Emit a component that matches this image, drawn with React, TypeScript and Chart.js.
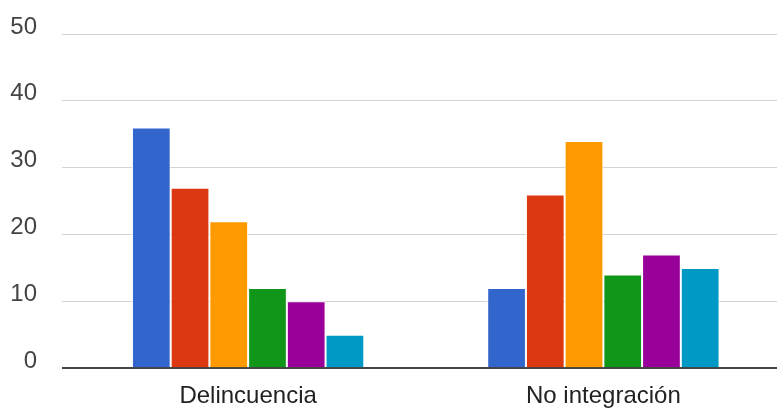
import React, { useEffect, useRef } from "react";
import { Chart, registerables } from "chart.js";

Chart.register(...registerables);

const categories = ["Delincuencia", "No integración"];
const seriesNames = ["Serie 1", "Serie 2", "Serie 3", "Serie 4", "Serie 5", "Serie 6"];
const serie1 = [36, 12];
const serie2 = [27, 26];
const serie3 = [22, 34];
const serie4 = [12, 14];
const serie5 = [10, 17];
const serie6 = [5, 15];
const seriesValues = [serie1, serie2, serie3, serie4, serie5, serie6];
const colors = ["#3366cc", "#dc3912", "#ff9900", "#109618", "#990099", "#0099c6"];
const yMin = 0;
const yMax = 50;
const yStep = 10;

const FONT = "'Liberation Sans', Arial, sans-serif";

export default function App() {
  const ref = useRef<HTMLCanvasElement | null>(null);

  useEffect(() => {
    if (!ref.current) return;
    const chart = new Chart(ref.current, {
      type: "bar",
      data: {
        labels: categories,
        datasets: seriesValues.map((vals, i) => ({
          label: seriesNames[i],
          data: vals,
          backgroundColor: colors[i],
          borderColor: "#ffffff",
          borderWidth: 1,
          borderSkipped: "bottom",
          categoryPercentage: 0.654,
          barPercentage: 1,
        })),
      },
      options: {
        responsive: false,
        animation: false,
        layout: { padding: { top: 34, bottom: 1, left: 0, right: 0 } },
        plugins: { legend: { display: false }, tooltip: { enabled: false } },
        scales: {
          x: {
            grid: { display: false, drawTicks: false },
            border: { display: false },
            ticks: {
              padding: 14,
              color: "#222222",
              font: { family: FONT, size: 24 },
            },
          },
          y: {
            min: yMin,
            max: yMax,
            afterFit: (scale: any) => {
              scale.width = 70.5;
            },
            grid: {
              color: (ctx: any) => (ctx.tick && ctx.tick.value === 0 ? "#444444" : "#d4d4d4"),
              lineWidth: (ctx: any) => (ctx.tick && ctx.tick.value === 0 ? 2 : 1),
              drawTicks: true,
              tickLength: 8.5,
            },
            border: { display: false },
            ticks: {
              stepSize: yStep,
              padding: 25,
              labelOffset: -7,
              color: "#444444",
              font: { family: FONT, size: 24, lineHeight: 0.5 },
            },
          },
        },
      },
    });
    return () => chart.destroy();
  }, []);

  return (
    <div
      style={{
        position: "fixed",
        left: 0,
        top: 0,
        width: 777,
        height: 410,
        overflow: "hidden",
        background: "#ffffff",
      }}
    >
      <canvas ref={ref} width={781} height={426} style={{ display: "block" }} />
    </div>
  );
}
